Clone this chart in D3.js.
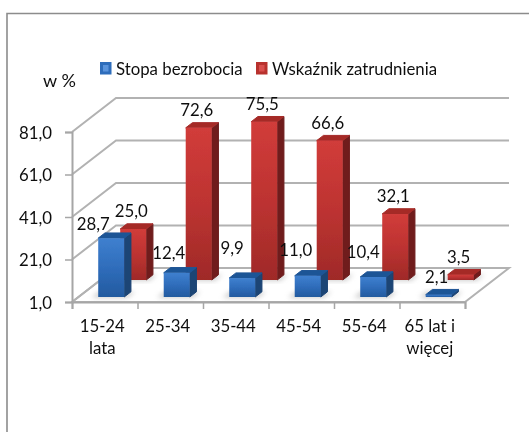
<!DOCTYPE html>
<html>
<head>
<meta charset="utf-8">
<script src="https://cdn.jsdelivr.net/npm/d3@7"></script>
<style>
  html, body { margin: 0; padding: 0; background: #fff; }
  svg { display: block; }
  text { font-family: Lato, "Open Sans", sans-serif; fill: #111; }
</style>
</head>
<body>
<div id="chart"></div>
<script>
const categories = [["15-24", "lata"], ["25-34"], ["35-44"], ["45-54"], ["55-64"], ["65 lat i", "więcej"]];
const unemployment = [28.7, 12.4, 9.9, 11.0, 10.4, 2.1];
const employment = [25.0, 72.6, 75.5, 66.6, 32.1, 3.5];
const valueTicks = [1, 21, 41, 61, 81];
const seriesNames = ["Stopa bezrobocia", "Wskaźnik zatrudnienia"];

const width = 529, height = 432;
const fontSize = 16.8;
const svg = d3.select("#chart").append("svg").attr("width", width).attr("height", height);
const defs = svg.append("defs");

const x0 = 72, x1 = 465, yBottom = 302, yTop = 132;
const depthX = 44, depthY = 34;

const x = d3.scaleBand().domain(d3.range(categories.length)).range([x0, x1]).paddingInner(0.603).paddingOuter(0.3015);
const y = d3.scaleLinear().domain([1, 81]).range([yBottom, yTop]);
const zx = d3.scaleLinear().domain([0, 1]).range([0, depthX]);
const zy = d3.scaleLinear().domain([0, 1]).range([0, depthY]);
const tickX = d3.scaleLinear().domain([0, categories.length]).range([x0, x1]);
const comma = d3.formatLocale({decimal: ",", thousands: " ", grouping: [3], currency: ["", ""]}).format(".1f");

// oblique projection of a point in the chart's box
const pt = (px, value, z) => [px + zx(z), y(value) - zy(z)];
const poly = pts => "M" + pts.map(p => p.join(",")).join("L") + "Z";

defs.append("filter").attr("id", "soft").attr("x", "-5%").attr("y", "-5%").attr("width", "110%").attr("height", "110%")
  .append("feGaussianBlur").attr("stdDeviation", 0.45);
const sh = defs.append("filter").attr("id", "shadow").attr("x", "-50%").attr("y", "-50%").attr("width", "200%").attr("height", "200%");
sh.append("feGaussianBlur").attr("stdDeviation", 2.5);

function gradient(id, stops, horizontal) {
  const g = defs.append("linearGradient").attr("id", id)
    .attr("x1", 0).attr("y1", 0).attr("x2", horizontal ? 1 : 0).attr("y2", horizontal ? 0 : 1);
  stops.forEach((c, i) => g.append("stop").attr("offset", i / (stops.length - 1)).attr("stop-color", c));
}
gradient("blueFront", ["#3f80cf", "#2f6dbb", "#235a9f"]);
gradient("redFront", ["#d13c3a", "#bd3331", "#9f2a28"]);

const root = svg.append("g").attr("filter", "url(#soft)");

// chart frame, only top and left show up
root.append("path").attr("d", `M7,432V13.5H529`).attr("fill", "none").attr("stroke", "#8c8c8c").attr("stroke-width", 1.6);

// floor and walls
const grid = root.append("g").attr("fill", "none").attr("stroke", "#b2b2b2").attr("stroke-width", 2);
grid.append("path").attr("d", poly([pt(x0, 1, 0), pt(x1, 1, 0), pt(x1, 1, 1), pt(x0, 1, 1)])).attr("fill", "#fff");
grid.selectAll(".grid").data(valueTicks).enter().append("path").attr("class", "grid")
  .attr("d", d => "M" + [pt(x0, d, 0), pt(x0, d, 1), pt(x1, d, 1)].map(p => p.join(",")).join("L"));

// axes
const yAxis = root.append("g").attr("transform", `translate(${x0},0)`)
  .call(d3.axisLeft(y).tickValues(valueTicks).tickFormat(comma).tickSize(7).tickPadding(13));
const xTicks = root.append("g").attr("transform", `translate(0,${yBottom})`)
  .call(d3.axisBottom(tickX).ticks(categories.length).tickFormat("").tickSize(7));
[yAxis, xTicks].forEach(a => {
  a.selectAll("path.domain").attr("stroke", "#a6a6a6").attr("stroke-width", 2);
  a.selectAll(".tick line").attr("stroke", "#a6a6a6").attr("stroke-width", 1.5);
});
yAxis.selectAll("text").attr("font-size", fontSize).attr("font-family", "Lato").attr("fill", "#111").attr("dy", "0.36em");

const xLabels = root.append("g").selectAll("text").data(categories).enter().append("text")
  .attr("text-anchor", "middle").attr("font-size", fontSize)
  .attr("transform", (d, i) => `translate(${x(i) + x.bandwidth() / 2 - 2.5},332)`);
xLabels.selectAll("tspan").data(d => d).enter().append("tspan")
  .attr("x", 0).attr("y", (d, i) => i * 22).text(d => d);

// the two series stand at different depths, back one drawn first
const series = [
  {name: "employment", values: employment, z0: 0.647, z1: 0.8, front: "url(#redFront)", top: "#a52a28", side: "#6f1f1f",
   nudge: [[-2, 0]]},
  {name: "unemployment", values: unemployment, z0: 0.147, z1: 0.3, front: "url(#blueFront)", top: "#1f5596", side: "#1c4474",
   nudge: [[-18, 4], [-8, -2], [-10, -12], [-12, -8], [-10, -7], [-2, 0]]}
];

series.forEach(s => {
  const g = root.append("g").attr("class", s.name);
  const w = x.bandwidth();
  g.selectAll("path.shadow").data(s.values).enter().append("path").attr("class", "shadow")
    .attr("d", (d, i) => poly([pt(x(i) - 6, 1, s.z0 - 0.02), pt(x(i) + w + 4, 1, s.z0 - 0.02), pt(x(i) + w + 4, 1, s.z1), pt(x(i) - 6, 1, s.z1)]))
    .attr("fill", "#9a9a9a").attr("opacity", 0.5).attr("filter", "url(#shadow)");
  const bars = g.selectAll("g.bar").data(s.values).enter().append("g").attr("class", "bar");
  bars.append("path").attr("fill", s.side).attr("stroke", s.side).attr("stroke-linejoin", "round")
    .attr("d", (d, i) => poly([pt(x(i) + w, 1, s.z0), pt(x(i) + w, 1, s.z1), pt(x(i) + w, d, s.z1), pt(x(i) + w, d, s.z0)]));
  bars.append("path").attr("fill", s.top).attr("stroke", s.top).attr("stroke-linejoin", "round")
    .attr("d", (d, i) => poly([pt(x(i), d, s.z0), pt(x(i) + w, d, s.z0), pt(x(i) + w, d, s.z1), pt(x(i), d, s.z1)]));
  bars.append("path").attr("fill", s.front)
    .attr("d", (d, i) => poly([pt(x(i), 1, s.z0), pt(x(i) + w, 1, s.z0), pt(x(i) + w, d, s.z0), pt(x(i), d, s.z0)]));
});

// data labels, on top of every bar
series.forEach(s => {
  root.append("g").selectAll("text").data(s.values).enter().append("text")
    .attr("text-anchor", "middle").attr("font-size", fontSize)
    .attr("x", (d, i) => pt(x(i) + x.bandwidth() / 2, d, s.z0)[0] + (s.nudge[i] || s.nudge[0])[0])
    .attr("y", (d, i) => pt(0, d, s.z0)[1] - 12 + (s.nudge[i] || s.nudge[0])[1])
    .text(d => comma(d));
});

// legend
const legend = root.append("g").selectAll("g").data(seriesNames).enter().append("g")
  .attr("transform", (d, i) => `translate(${[100, 256][i]},62)`);
legend.append("rect").attr("width", 11.5).attr("height", 12.5).attr("fill", (d, i) => i ? "#b8302e" : "#2f6dbb");
legend.append("rect").attr("x", 3).attr("y", 3).attr("width", 5.5).attr("height", 6.5).attr("fill", (d, i) => i ? "#d9504e" : "#5a94dc");
legend.append("text").attr("x", 16).attr("y", 13).attr("font-size", fontSize).text(d => d);

root.append("text").attr("x", 43).attr("y", 87).attr("font-size", 18).text("w %");
</script>
</body>
</html>
